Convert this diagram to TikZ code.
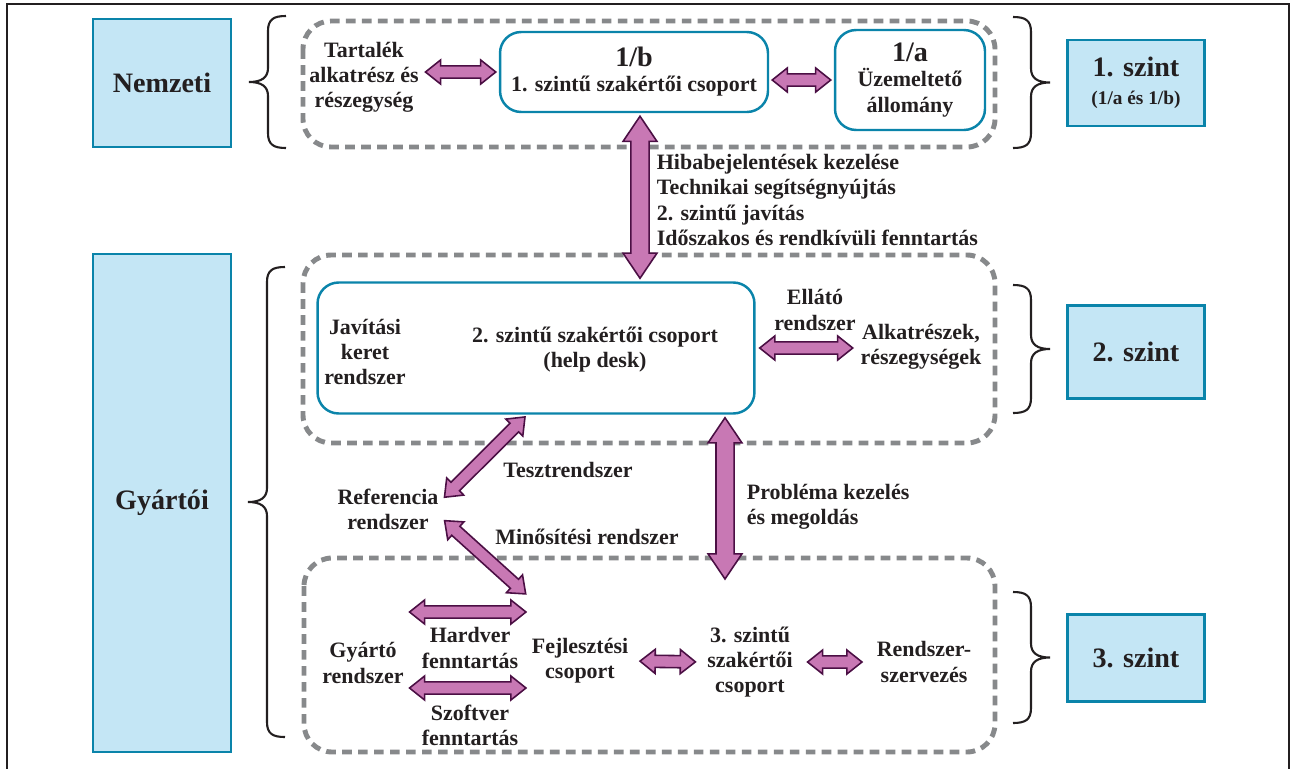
\documentclass[tikz,border=0pt]{standalone}
\usepackage{fontspec}
\setmainfont{Liberation Serif}
\usepackage{tikz}
\usetikzlibrary{calc,positioning,shapes.arrows}

\definecolor{boxfill}{HTML}{C4E6F5}
\definecolor{boxline}{HTML}{0A84AA}
\definecolor{zonegray}{HTML}{87898B}
\definecolor{arrowfill}{HTML}{C878B4}
\definecolor{arrowline}{HTML}{4B0F44}
\definecolor{ink}{HTML}{231F20}

\tikzset{
  level/.style={draw=boxline, fill=boxfill, line width=1.6pt, text=ink,
    font=\bfseries\fontsize{16}{19}\selectfont, align=center},
  zone/.style={draw=zonegray, line width=2.8pt, dash pattern=on 5.5pt off 3.6pt,
    rounded corners=16pt},
  group/.style={draw=boxline, line width=1.4pt, rounded corners=12pt, fill=white},
  lbl/.style={text=ink, font=\bfseries\fontsize{12.5}{14.3}\selectfont,
    align=center, inner sep=2pt},
  fat/.style={double arrow, draw=arrowline, fill=arrowfill, line width=0.9pt,
    inner xsep=0pt, inner ysep=3pt, double arrow head extend=3.4pt,
    double arrow tip angle=77, anchor=center},
  bigfat/.style={fat, inner ysep=4.7pt, double arrow head extend=4.5pt,
    double arrow tip angle=68},
  curl/.style={line width=1.2pt, ink}
}

% fat double arrow between two points, #4 = gap in px at both ends
\newcommand\fatlink[4][fat]{%
  \path let \p1=($(#3)-(#2)$), \n1={veclen(\x1,\y1)-2*#4*0.569}, \n2={atan2(\y1,\x1)} in
    node[#1, minimum height=\n1, rotate=\n2] at ($(#2)!0.5!(#3)$) {};}

% curly brace: tip x, top y, bottom y, side (1 = tip left, -1 = tip right)
\newcommand\levelbrace[4]{%
  \draw[curl] ({#1+37*(#4)},#2) .. controls ({#1+25*(#4)},#2) and ({#1+19*(#4)},{#2+3}) .. ({#1+19*(#4)},{#2+15})
    -- ({#1+19*(#4)},{(#2+#3)/2-14}) .. controls ({#1+19*(#4)},{(#2+#3)/2-4}) and ({#1+12*(#4)},{(#2+#3)/2}) .. (#1,{(#2+#3)/2})
    .. controls ({#1+12*(#4)},{(#2+#3)/2}) and ({#1+19*(#4)},{(#2+#3)/2+4}) .. ({#1+19*(#4)},{(#2+#3)/2+14})
    -- ({#1+19*(#4)},{#3-15}) .. controls ({#1+19*(#4)},{#3-3}) and ({#1+25*(#4)},#3) .. ({#1+37*(#4)},#3);}

\begin{document}
\begin{tikzpicture}[x=0.02cm, y=-0.02cm]
\useasboundingbox (0,0) rectangle (1295,768);
\clip (0,0) rectangle (1295,768);
\draw[line width=0.6pt, ink] (7,4) rectangle (1289,790);

%%%%% Levels %%%%%
\node[level, minimum width=2.76cm, minimum height=2.56cm] (nemz) at (162,83) {Nemzeti};
\node[level, minimum width=2.76cm, minimum height=9.96cm] (gyart) at (162,503) {Gyártói};
\node[level, minimum width=2.74cm, minimum height=1.72cm] (sz1) at (1136,83)
  {1. szint\\[-3pt]{\fontsize{11}{13}\selectfont(1/a és 1/b)}};
\node[level, minimum width=2.74cm, minimum height=1.86cm] (sz2) at (1136,352) {2. szint};
\node[level, minimum width=2.74cm, minimum height=1.74cm] (sz3) at (1136,658) {3. szint};

%%%%% Braces %%%%%
\levelbrace{249}{16}{148}{1}
\levelbrace{248}{267}{737}{1}
\levelbrace{1050}{17}{148}{-1}
\levelbrace{1050}{285}{413}{-1}
\levelbrace{1050}{592}{723}{-1}

%%%%% Zones %%%%%
\draw[zone] (303,21) rectangle (995,147);
\draw[zone] (303,255) rectangle (995,443);
\draw[zone] (304,558) rectangle (995,752);

%%%%% 1. szint %%%%%
\node[lbl] (tart) at (364,77) {Tartalék\\alkatrész és\\részegység};
\node[group, lbl, minimum width=5.36cm, minimum height=1.6cm] (b1) at (634,72)
  {{\fontsize{16}{18}\selectfont 1/b}\\1. szintű szakértői csoport};
\node[group, lbl, minimum width=3.0cm, minimum height=2.0cm] (a1) at (910,80)
  {{\fontsize{16}{18}\selectfont 1/a}\\Üzemeltető\\állomány};
\node[lbl, align=left, anchor=west] (hiba) at (653,200)
  {Hibabejelentések kezelése\\Technikai segítségnyújtás\\2. szintű javítás\\Időszakos és rendkívüli fenntartás};

%%%%% 2. szint %%%%%
\node[group, minimum width=8.74cm, minimum height=2.62cm] (help) at (536,348) {};
\node[lbl] (jav) at (365,352) {Javítási\\keret\\rendszer};
\node[lbl] (csop2) at (595,350) {2. szintű szakértői csoport\\(help desk)};
\node[lbl] (ellato) at (815,310) {Ellátó\\rendszer};
\node[lbl] (alkat) at (921,347) {Alkatrészek,\\részegységek};

%%%%% between %%%%%
\node[lbl] (ref) at (388,509) {Referencia\\rendszer};
\node[lbl] (teszt) at (568,470) {Tesztrendszer};
\node[lbl] (minos) at (587,537) {Minősítési rendszer};
\node[lbl, align=left, anchor=west] (probl) at (743,507) {Probléma kezelés\\és megoldás};

%%%%% 3. szint %%%%%
\node[lbl] (gyarto) at (363,663) {Gyártó\\rendszer};
\node[lbl] (hard) at (470,648) {Hardver\\fenntartás};
\node[lbl] (szoft) at (470,725) {Szoftver\\fenntartás};
\node[lbl] (fejl) at (580,661) {Fejlesztési\\csoport};
\node[lbl] (csop3) at (750,662) {3. szintű\\szakértői\\csoport};
\node[lbl] (rendsz) at (924,662) {Rendszer-\\szervezés};

\coordinate (hwy) at (0,612);
\coordinate (swy) at (0,688);
\coordinate (b1out) at ($(b1.south)+(6,0)$);
\coordinate (hdout) at ($(help.south west)!0.48!(help.south east)$);
\coordinate (fejltop) at (528,596);
\coordinate (p3) at (725,582);

%%%%% Arrows %%%%%
\fatlink{tart.east |- b1.west}{b1.west}{3}
\fatlink{b1.east |- a1.west}{a1.west}{3}
\fatlink[bigfat]{b1out}{b1out |- help.north}{3}
\fatlink{help.east}{alkat.west |- help.east}{4}
\fatlink{ref.10}{hdout}{3}
\fatlink{ref.-10}{fejltop}{3}
\fatlink[bigfat]{help.south -| p3}{p3}{3}
\fatlink{gyarto.east |- hwy}{fejl.west |- hwy}{2}
\fatlink{gyarto.east |- swy}{fejl.west |- swy}{2}
\fatlink{fejl.east}{csop3.west}{8}
\fatlink{csop3.east}{rendsz.west}{11}
\end{tikzpicture}
\end{document}
